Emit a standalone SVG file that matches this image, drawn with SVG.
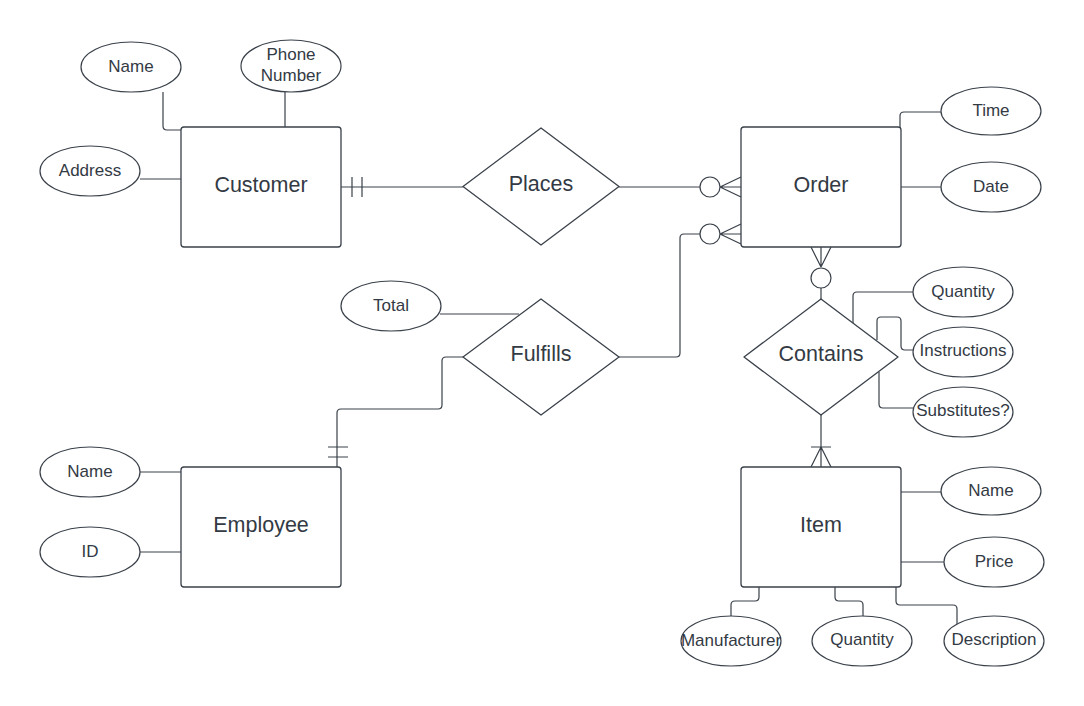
<svg xmlns="http://www.w3.org/2000/svg" width="1084" height="706" viewBox="0 0 1084 706">
<style>
.ent{fill:#fff;stroke:#3a414a;stroke-width:1.3}
.rel{fill:#fff;stroke:#3a414a;stroke-width:1.3;stroke-linejoin:round}
.att{fill:#fff;stroke:#3a414a;stroke-width:1.2}
.ln{fill:none;stroke:#3a414a;stroke-width:1.2}
.ci{fill:#fff;stroke:#3a414a;stroke-width:1.2}
text{font-family:"Liberation Sans",Arial,sans-serif;fill:#333a44;text-anchor:middle;dominant-baseline:central}
.big{font-size:21.5px}
.sm{font-size:17px}
</style>
<rect width="1084" height="706" fill="#fff"/>
<g id="connectors">
<path class="ln" d="M163 92 V126 Q163 130 167 130 H181"/>
<path class="ln" d="M285 92 V127"/>
<path class="ln" d="M140 179 H181"/>
<path class="ln" d="M341 187 H463 M352 177 V197 M362 177 V197"/>
<path class="ln" d="M619 187 H700 M720 187 L741 177 M720 187 H741 M720 187 L741 197"/>
<path class="ln" d="M619 357 H676 Q680 357 680 353 V238 Q680 234 684 234 H700 M720 234 L741 224 M720 234 H741 M720 234 L741 244"/>
<path class="ln" d="M337 467 V413 Q337 409 341 409 H438 Q442 409 442 405 V361 Q442 357 446 357 H463 M328 447 H348 M328 457 H348"/>
<path class="ln" d="M440 314 H519"/>
<path class="ln" d="M900 130 V116 Q900 112 904 112 H941"/>
<path class="ln" d="M901 187 H941"/>
<path class="ln" d="M811 247 L821 267 M821 247 V267 M831 247 L821 267 M821 288 V299"/>
<path class="ln" d="M821 415 V467 M811 447 H831 M821 447 L811 467 M821 447 L831 467"/>
<path class="ln" d="M853 323 V296 Q853 292 857 292 H913"/>
<path class="ln" d="M877 340 V321 Q877 317 881 317 H897 Q901 317 901 321 V346 Q901 350 905 350 H913"/>
<path class="ln" d="M879 372 V404 Q879 408 883 408 H913"/>
<path class="ln" d="M901 492 H941"/>
<path class="ln" d="M901 562 H944"/>
<path class="ln" d="M759 587 V597 Q759 601 755 601 H735 Q731 601 731 605 V616"/>
<path class="ln" d="M835 587 V597 Q835 601 839 601 H859 Q863 601 863 605 V616"/>
<path class="ln" d="M896 587 V601 Q896 605 900 605 H953 Q957 605 957 609 V624"/>
<path class="ln" d="M140 472 H181"/>
<path class="ln" d="M140 552 H181"/>
<circle class="ci" cx="710" cy="187" r="10"/>
<circle class="ci" cx="710" cy="234" r="10"/>
<circle class="ci" cx="821" cy="278" r="10"/>
</g>
<g id="customer"><rect class="ent" x="181" y="127" width="160" height="120" rx="3"/><text class="big" x="261" y="185">Customer</text></g>
<g id="order"><rect class="ent" x="741" y="127" width="160" height="120" rx="3"/><text class="big" x="821" y="185">Order</text></g>
<g id="employee"><rect class="ent" x="181" y="467" width="160" height="120" rx="3"/><text class="big" x="261" y="525">Employee</text></g>
<g id="item"><rect class="ent" x="741" y="467" width="160" height="120" rx="3"/><text class="big" x="821" y="525">Item</text></g>
<g id="places"><polygon class="rel" points="463,186.5 541,128 619,186.5 541,245"/><text class="big" x="541" y="184">Places</text></g>
<g id="fulfills"><polygon class="rel" points="463,357 541,299 619,357 541,415"/><text class="big" x="541" y="354">Fulfills</text></g>
<g id="contains"><polygon class="rel" points="744,357 821,299 898,357 821,415"/><text class="big" x="821" y="354">Contains</text></g>
<g id="cust-name"><ellipse class="att" cx="131" cy="67" rx="50" ry="25"/><text class="sm" x="131" y="66">Name</text></g>
<g id="cust-phone"><ellipse class="att" cx="291" cy="66" rx="50" ry="26"/><text class="sm" x="291" y="54">Phone</text><text class="sm" x="291" y="75">Number</text></g>
<g id="cust-address"><ellipse class="att" cx="90" cy="171" rx="50" ry="25"/><text class="sm" x="90" y="170">Address</text></g>
<g id="order-time"><ellipse class="att" cx="991" cy="111" rx="50" ry="24"/><text class="sm" x="991" y="110">Time</text></g>
<g id="order-date"><ellipse class="att" cx="991" cy="187" rx="50" ry="25"/><text class="sm" x="991" y="186">Date</text></g>
<g id="total"><ellipse class="att" cx="391" cy="306" rx="50" ry="25"/><text class="sm" x="391" y="305">Total</text></g>
<g id="cont-quantity"><ellipse class="att" cx="963" cy="292" rx="50" ry="25"/><text class="sm" x="963" y="291">Quantity</text></g>
<g id="cont-instructions"><ellipse class="att" cx="963" cy="352" rx="50" ry="25"/><text class="sm" x="963" y="350">Instructions</text></g>
<g id="cont-substitutes"><ellipse class="att" cx="963" cy="412" rx="50" ry="25"/><text class="sm" x="963" y="410">Substitutes?</text></g>
<g id="emp-name"><ellipse class="att" cx="90" cy="472" rx="50" ry="25"/><text class="sm" x="90" y="471">Name</text></g>
<g id="emp-id"><ellipse class="att" cx="90" cy="552" rx="50" ry="25"/><text class="sm" x="90" y="551">ID</text></g>
<g id="item-name"><ellipse class="att" cx="991" cy="491" rx="50" ry="24"/><text class="sm" x="991" y="490">Name</text></g>
<g id="item-price"><ellipse class="att" cx="994" cy="562" rx="50" ry="25"/><text class="sm" x="994" y="561">Price</text></g>
<g id="item-manufacturer"><ellipse class="att" cx="731" cy="641" rx="50" ry="25"/><text class="sm" x="731" y="640">Manufacturer</text></g>
<g id="item-quantity"><ellipse class="att" cx="862" cy="641" rx="50" ry="25"/><text class="sm" x="862" y="639">Quantity</text></g>
<g id="item-description"><ellipse class="att" cx="994" cy="641" rx="50" ry="25"/><text class="sm" x="994" y="639">Description</text></g>
</svg>
